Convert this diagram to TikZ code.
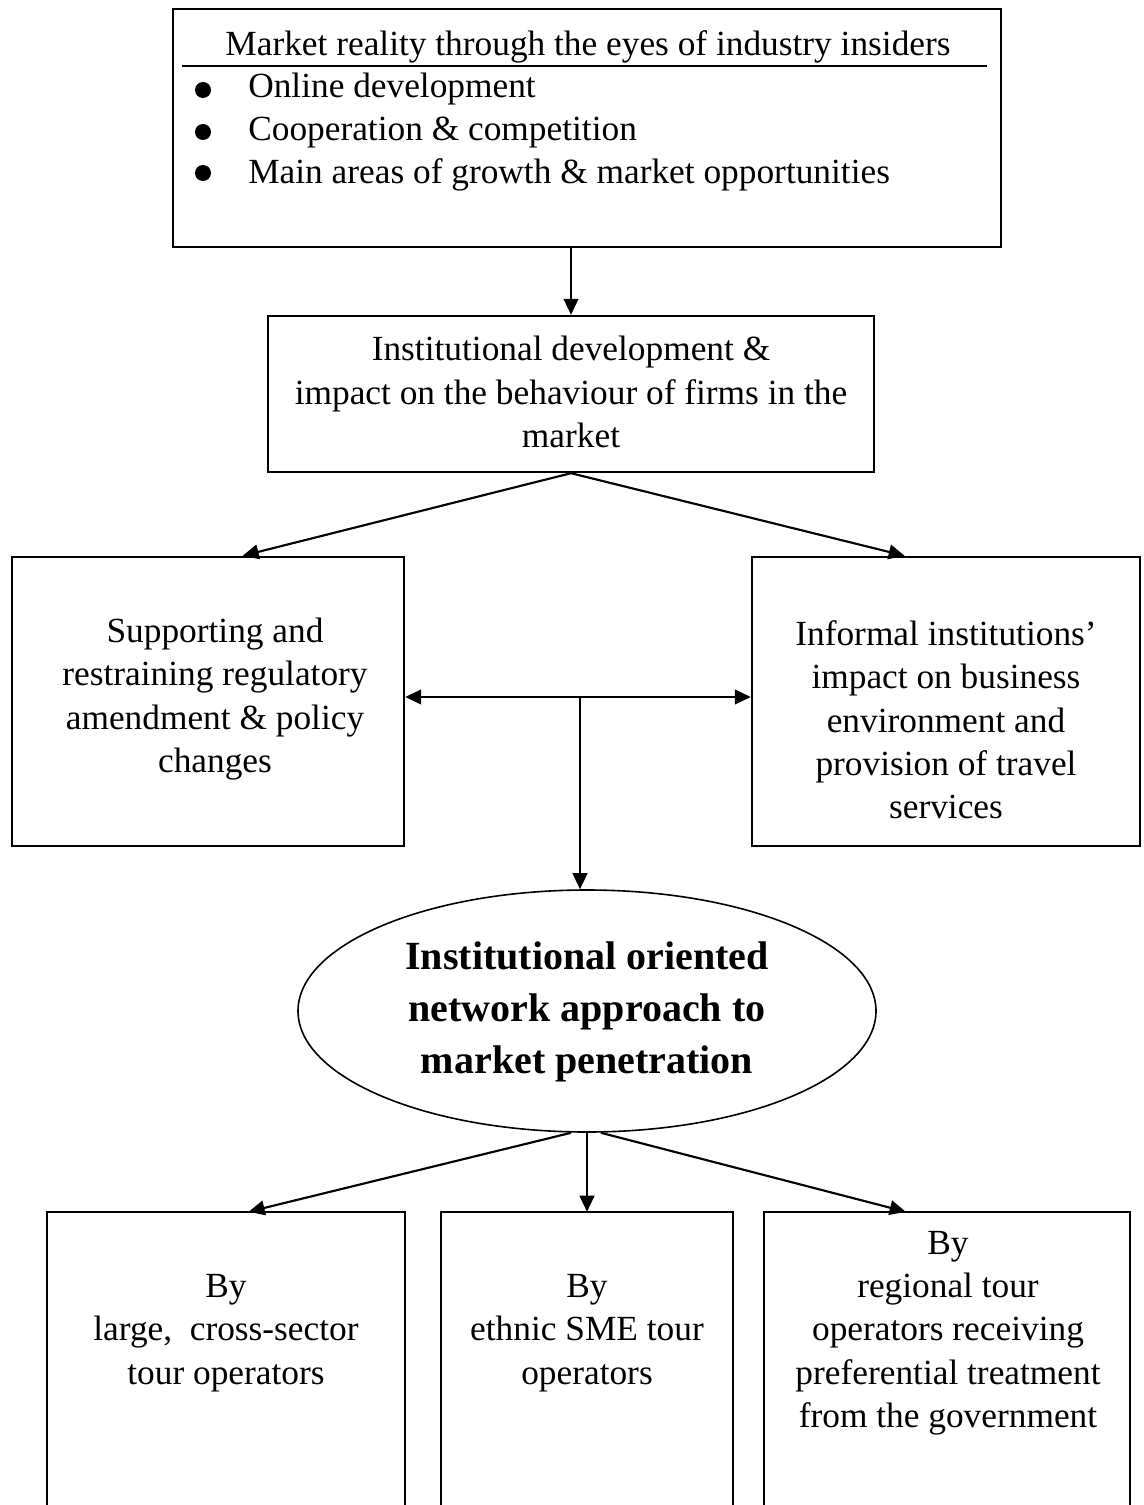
\documentclass[tikz,border=0pt]{standalone}
\usepackage{fontspec}
\setmainfont{Liberation Serif}
\usetikzlibrary{shapes.geometric,arrows.meta,calc}

\begin{document}
\begin{tikzpicture}[x=0.75pt,y=-0.75pt,
  frame/.style={draw,line width=1.8pt,inner sep=0pt},
  openbox/.style={inner sep=0pt},
  txt/.style={align=center,inner sep=0pt,font=\fontsize{26.5}{32.5}\selectfont},
  boldtxt/.style={align=center,inner sep=0pt,font=\bfseries\fontsize{30}{39}\selectfont},
  arr/.style={line width=1.6pt,-{Triangle[length=12pt,width=11pt]}},
  dblarr/.style={line width=1.6pt,{Triangle[length=12pt,width=11pt]}-{Triangle[length=12pt,width=11pt]}},
  ]
\useasboundingbox (0,0) rectangle (1144,1505);
\fill[white] (0,0) rectangle (1144,1505);

% --- top box with heading and bullet list
\node[frame,minimum width=621pt,minimum height=178.5pt] (top) at (587,128) {};
\node[txt,anchor=base] (ttl) at (588,56) {Market reality through the eyes of industry insiders};
\draw[line width=1.5pt] (182,66) -- (987,66);
\foreach \yy/\bc/\lbl/\nm in {98/90/Online development/ia,141/132/Cooperation \& competition/ib,184/173/Main areas of growth \& market opportunities/ic}{
  \fill (203,\bc) circle[radius=6pt];
  \node[txt,anchor=base west] (\nm) at (248,\yy) {\lbl};
}

% --- institutional development box
\node[frame,minimum width=454.5pt,minimum height=117pt] (inst) at (571,394) {};
\node[txt] (instt) at (571,392) {Institutional development \&\\impact on the behaviour of firms in the\\market};

% --- the two institution boxes
\node[frame,minimum width=294pt,minimum height=216.75pt] (reg) at (208,701.5) {};
\node[txt] (regt) at (215,699) {Supporting and\\restraining regulatory\\amendment \& policy\\changes};
\node[frame,minimum width=291pt,minimum height=216.75pt] (inf) at (946,701.5) {};
\node[txt] (inft) at (946,720) {Informal institutions’\\impact on business\\environment and\\provision of travel\\services};

% --- central ellipse
\node[draw,ellipse,line width=1.2pt,minimum width=433.5pt,minimum height=181.5pt,inner sep=0pt] (ell) at (587,1011) {};
\node[boldtxt] (ellt) at (587,1012) {Institutional oriented\\network approach to\\market penetration};

% --- bottom boxes (open at the lower edge)
\node[openbox,minimum width=268.5pt,minimum height=223.5pt] (bx1) at (226,1361) {};
\node[openbox,minimum width=219pt,minimum height=223.5pt] (bx2) at (587,1361) {};
\node[openbox,minimum width=274.5pt,minimum height=223.5pt] (bx3) at (947,1361) {};
\foreach \b in {bx1,bx2,bx3}{
  \draw[line width=1.8pt] (\b.south west) -- (\b.north west) -- (\b.north east) -- (\b.south east);
}
\node[txt] (bt1) at (226,1333) {By\\large,~ cross-sector\\tour operators};
\node[txt] (bt2) at (587,1333) {By\\ethnic SME tour\\operators};
\node[txt] (bt3) at (948,1333) {By\\regional tour\\operators receiving\\preferential treatment\\from the government};

% --- connectors
\draw[arr] (inst.north |- top.south) -- (inst.north);
\draw[arr] (inst.south) -- ([xshift=26pt]reg.north);
\draw[arr] (inst.south) -- ([xshift=-31pt]inf.north);
\coordinate (junc) at (580,697);
\draw[dblarr] (reg.east |- junc) -- (inf.west |- junc);
\draw[arr] (junc) -- (junc |- ell.north);
\draw[arr] ([xshift=-12pt]ell.south) -- ([xshift=17pt]bx1.north);
\draw[arr] (ell.south) -- (bx2.north);
\draw[arr] ([xshift=10.5pt]ell.south) -- ([xshift=-31pt]bx3.north);
\end{tikzpicture}
\end{document}
